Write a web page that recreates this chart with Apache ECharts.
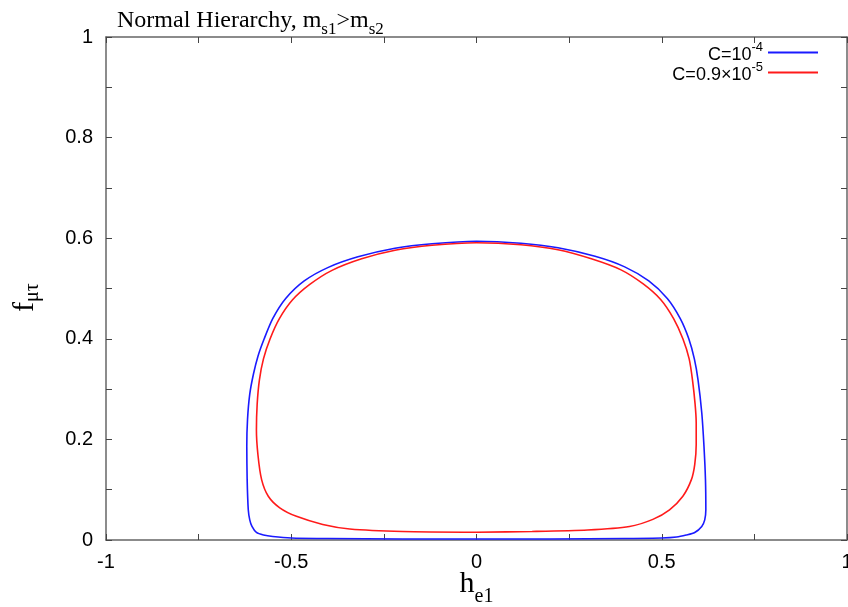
<!DOCTYPE html>
<html><head><meta charset="utf-8">
<script src="https://cdn.jsdelivr.net/npm/echarts@6/dist/echarts.min.js"></script>
<style>html,body{margin:0;padding:0;background:#fff}#c{width:848px;height:607px}</style>
</head><body><div id="c"></div>
<script>
// C = 1e-4 (blue)
const blueH = [0,-0.2,-0.4,-0.5,-0.55,-0.575,-0.594,-0.606,-0.612,-0.616,-0.619,-0.620,-0.618,-0.612,-0.602,-0.590,-0.573,-0.550,-0.515,-0.465,-0.400,-0.320,-0.220,-0.120,0,
  0.120,0.220,0.320,0.400,0.465,0.515,0.550,0.573,0.588,0.598,0.608,0.614,0.618,0.619,0.616,0.608,0.589,0.566,0.540,0.500,0.400,0.200,0];
const blueF = [0.002,0.002,0.003,0.004,0.007,0.010,0.015,0.027,0.040,0.060,0.120,0.186,0.240,0.290,0.330,0.365,0.400,0.440,0.480,0.515,0.542,0.563,0.580,0.589,0.594,
  0.590,0.581,0.564,0.543,0.515,0.480,0.440,0.400,0.360,0.318,0.253,0.186,0.120,0.060,0.040,0.027,0.015,0.010,0.006,0.004,0.003,0.002,0.002];
// C = 0.9e-5 (red)
const redH = [0,-0.2,-0.342,-0.415,-0.486,-0.531,-0.562,-0.580,-0.590,-0.594,-0.592,-0.586,-0.575,-0.557,-0.532,-0.497,-0.450,-0.390,-0.310,-0.220,-0.120,0,
  0.120,0.220,0.310,0.390,0.450,0.497,0.532,0.557,0.574,0.583,0.590,0.593,0.593,0.589,0.580,0.557,0.521,0.476,0.413,0.300,0.150,0];
const redF = [0.0155,0.017,0.022,0.031,0.047,0.064,0.087,0.120,0.170,0.219,0.270,0.318,0.360,0.400,0.440,0.477,0.508,0.536,0.559,0.576,0.586,0.591,
  0.587,0.577,0.559,0.537,0.509,0.478,0.440,0.400,0.360,0.318,0.270,0.233,0.190,0.150,0.120,0.087,0.060,0.041,0.027,0.020,0.017,0.0155];
const xLabels = ['-1','-0.5','0','0.5','1'];
const yLabels = ['0','0.2','0.4','0.6','0.8','1'];
const seriesNames = ['C=10^-4','C=0.9×10^-5'];

const pair = (a,b)=>a.map((v,i)=>[v,b[i]]);
const sans = 'Liberation Sans, Arial, sans-serif';
const serif = 'Liberation Serif, Times New Roman, serif';
const axisLineStyle = {color:'#666', width:1.5};
const tickStyle = {show:true, inside:true, length:6, lineStyle:{color:'#444'}};

const chart = echarts.init(document.getElementById('c'), null, {renderer:'canvas'});
chart.setOption({
  animation:false,
  backgroundColor:'#fff',
  title:{
    text:'{a|Normal Hierarchy, m}{s|s1}{a|>m}{s|s2}',
    left:112, top:4,
    textStyle:{fontWeight:'normal', rich:{
      a:{fontFamily:serif, fontSize:24, fontWeight:'normal', color:'#000', verticalAlign:'top', lineHeight:29},
      s:{fontFamily:serif, fontSize:17, fontWeight:'normal', color:'#000', verticalAlign:'bottom', lineHeight:29}
    }}
  },
  legend:{
    right:25, top:36, orient:'vertical', align:'right',
    itemWidth:50, itemHeight:2, itemGap:-3,
    icon:'rect',
    data:seriesNames,
    formatter:function(n){
      const p = n.split('^');
      return '{t|'+p[0]+'}{u|'+p[1]+'}';
    },
    textStyle:{rich:{
      t:{fontFamily:sans, fontSize:18, color:'#000', verticalAlign:'bottom', lineHeight:23},
      u:{fontFamily:sans, fontSize:13, color:'#000', verticalAlign:'top', lineHeight:21}
    }}
  },
  grid:{left:106, right:1, top:37, bottom:67, containLabel:false, outerBoundsMode:'none'},
  xAxis:[{
    type:'value', min:-1, max:1, interval:0.25,
    name:'{h|h}{s|e1}', nameLocation:'middle', nameGap:29, nameMoveOverlap:false,
    nameTextStyle:{rich:{
      h:{fontFamily:serif, fontSize:30, color:'#000', verticalAlign:'top', lineHeight:38},
      s:{fontFamily:serif, fontSize:20, color:'#000', verticalAlign:'bottom', lineHeight:38}
    }},
    axisLine:{show:true, onZero:false, lineStyle:axisLineStyle},
    axisTick:tickStyle,
    splitLine:{show:false},
    axisLabel:{fontFamily:sans, fontSize:20, color:'#000', margin:12,
      formatter:function(v){const k=Math.round(v*4); return k%2===0 ? xLabels[(k+4)/2] : '';}}
  },{
    type:'value', min:-1, max:1, interval:0.25, position:'top',
    axisLine:{show:true, onZero:false, lineStyle:axisLineStyle},
    axisTick:tickStyle,
    splitLine:{show:false}, axisLabel:{show:false}
  }],
  yAxis:[{
    type:'value', min:0, max:1, interval:0.1,
    name:'{f|f}{s|μτ}', nameLocation:'middle', nameGap:63, nameRotate:90, nameMoveOverlap:false,
    nameTextStyle:{padding:[0,18,0,0], rich:{
      f:{fontFamily:serif, fontSize:30, color:'#000', verticalAlign:'top', lineHeight:33},
      s:{fontFamily:serif, fontSize:20, color:'#000', verticalAlign:'bottom', lineHeight:33}
    }},
    axisLine:{show:true, onZero:false, lineStyle:axisLineStyle},
    axisTick:tickStyle,
    splitLine:{show:false},
    axisLabel:{fontFamily:sans, fontSize:20, color:'#000', margin:13,
      formatter:function(v){const k=Math.round(v*10); return k%2===0 ? yLabels[k/2] : '';}}
  },{
    type:'value', min:0, max:1, interval:0.1, position:'right',
    axisLine:{show:true, onZero:false, lineStyle:axisLineStyle},
    axisTick:tickStyle,
    splitLine:{show:false}, axisLabel:{show:false}
  }],
  series:[{
    name:seriesNames[0], type:'line', data:pair(blueH,blueF), showSymbol:false, symbol:'none',
    smooth:0.25, lineStyle:{color:'#1a1aff', width:1.6}, itemStyle:{color:'#1a1aff'}, clip:false
  },{
    name:seriesNames[1], type:'line', data:pair(redH,redF), showSymbol:false, symbol:'none',
    smooth:0.25, lineStyle:{color:'#ff1a1a', width:1.6}, itemStyle:{color:'#ff1a1a'}, clip:false
  }]
});
</script></body></html>
